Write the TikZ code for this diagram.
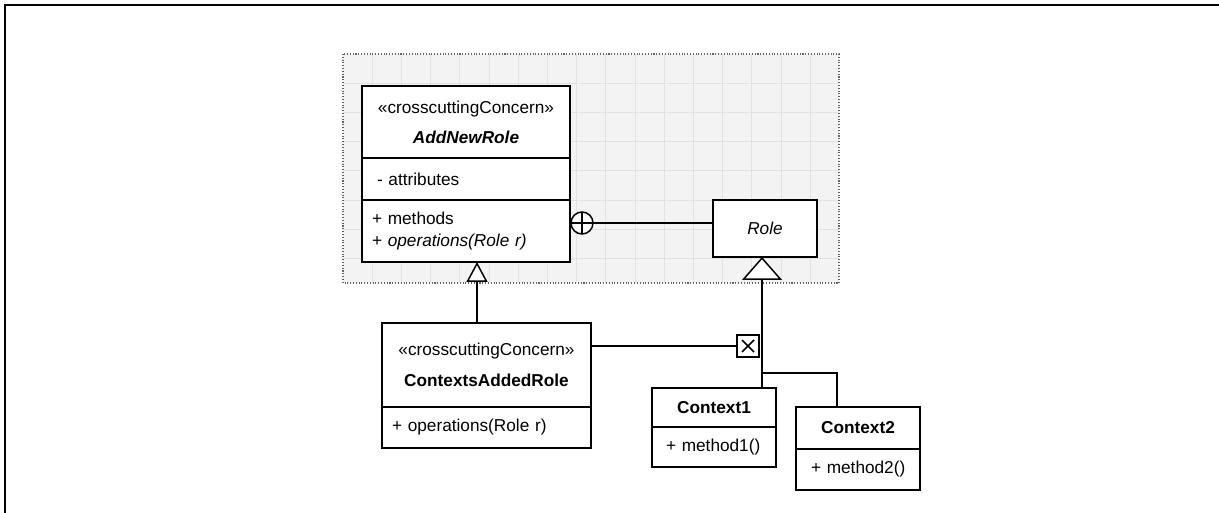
\documentclass[tikz,border=0pt]{standalone}
\usepackage{fontspec}
\setmainfont{Liberation Sans}
\usepackage{tikz}
\usepackage{xcolor}
\usetikzlibrary{arrows.meta,positioning}
\definecolor{pkgfill}{RGB}{243,243,243}
\definecolor{pkggrid}{RGB}{226,226,226}
\definecolor{pkgedge}{RGB}{100,100,100}

\begin{document}
\begin{tikzpicture}[
  x=0.02cm, y=-0.02cm,
  font=\fontsize{9.8}{11.8}\selectfont,
  cls/.style={draw, line width=0.85pt, fill=white, outer sep=0pt, inner sep=0pt, align=center},
  glyph/.style={draw, line width=0.85pt, fill=white, outer sep=0pt, inner sep=0pt, minimum size=0.44cm},
  assoc/.style={line width=0.85pt},
  gen/.style 2 args={line width=0.85pt, -{Triangle[fill=white, length=#1, width=#2]}}
]
\useasboundingbox (0,0) rectangle (1219,513);
\draw[line width=1.1pt] (5,513) -- (5,5) -- (1219,5);
% package area with grid
\fill[pkgfill] (343,54) rectangle (839,283);
\foreach \i in {1,...,16} \draw[pkggrid, line width=0.5pt] (343+\i*29.2,54) -- (343+\i*29.2,283);
\foreach \j in {1,...,7} \draw[pkggrid, line width=0.5pt] (343,54+\j*29.2) -- (839,54+\j*29.2);
\draw[pkgedge, densely dotted, line width=0.6pt] (343,54) rectangle (839,283);

% classes
\node[cls, minimum width=4.16cm, minimum height=1.44cm] (anr) at (466,122) {«crosscuttingConcern»\\[5.2pt]\textbf{\textit{AddNewRole}}};
\node[cls, below=0pt of anr, minimum height=0.84cm, text width=3.56cm, inner xsep=0.3cm, align=left] (anr-at) {- attributes};
\node[cls, below=0pt of anr-at, minimum height=1.24cm, text width=3.76cm, inner xsep=0.2cm, align=left] (anr-op) {+ methods\\[0.7pt]+ \textit{operations(Role r)}};
\node[cls, minimum width=2.08cm, minimum height=1.14cm] (role) at (765,228.5) {\textit{Role}};
\node[cls, minimum width=4.18cm, minimum height=1.68cm] (car) at (486.5,365) {«crosscuttingConcern»\\[5.8pt]\textbf{ContextsAddedRole}};
\node[cls, below=0pt of car, minimum height=0.82cm, text width=3.78cm, inner xsep=0.2cm, align=left] (car-op) {+ operations(Role r)};
\node[cls, minimum width=2.48cm, minimum height=0.78cm] (ctx1) at (714,407.5) {\textbf{Context1}};
\node[cls, below=0pt of ctx1, minimum height=0.8cm, text width=1.92cm, inner xsep=0.28cm, align=left] (ctx1-op) {\mbox{+ method1()}};
\node[cls, minimum width=2.48cm, minimum height=0.84cm] (ctx2) at (858,428) {\textbf{Context2}};
\node[cls, below=0pt of ctx2, minimum height=0.82cm, text width=1.88cm, inner xsep=0.3cm, align=left] (ctx2-op) {\mbox{+ method2()}};

% nesting and crossing marks
\node[glyph, circle] (nest) at (582,223) {};
\draw[assoc] (nest.north) -- (nest.south) (nest.west) -- (nest.east);
\node[glyph] (xbox) at (748,346) {};
\draw[assoc] ([shift={(0.1cm,-0.1cm)}]xbox.north west) -- ([shift={(-0.1cm,0.1cm)}]xbox.south east)
  ([shift={(-0.1cm,-0.1cm)}]xbox.north east) -- ([shift={(0.1cm,0.1cm)}]xbox.south west);

% connectors
\coordinate (jn) at (762,373);
\draw[assoc] (nest.east) -- (nest.east -| role.west);
\draw[assoc] (car.east |- xbox.west) -- (xbox.west);
\draw[gen={0.4cm}{0.42cm}] ([xshift=-0.19cm]car.north) -- ([xshift=-0.19cm]car.north |- anr-op.south);
\draw[gen={0.46cm}{0.8cm}] (ctx1.north -| jn) -- (role.south -| jn);
\draw[assoc] (jn) -| ([xshift=-0.42cm]ctx2.north);
\end{tikzpicture}
\end{document}
